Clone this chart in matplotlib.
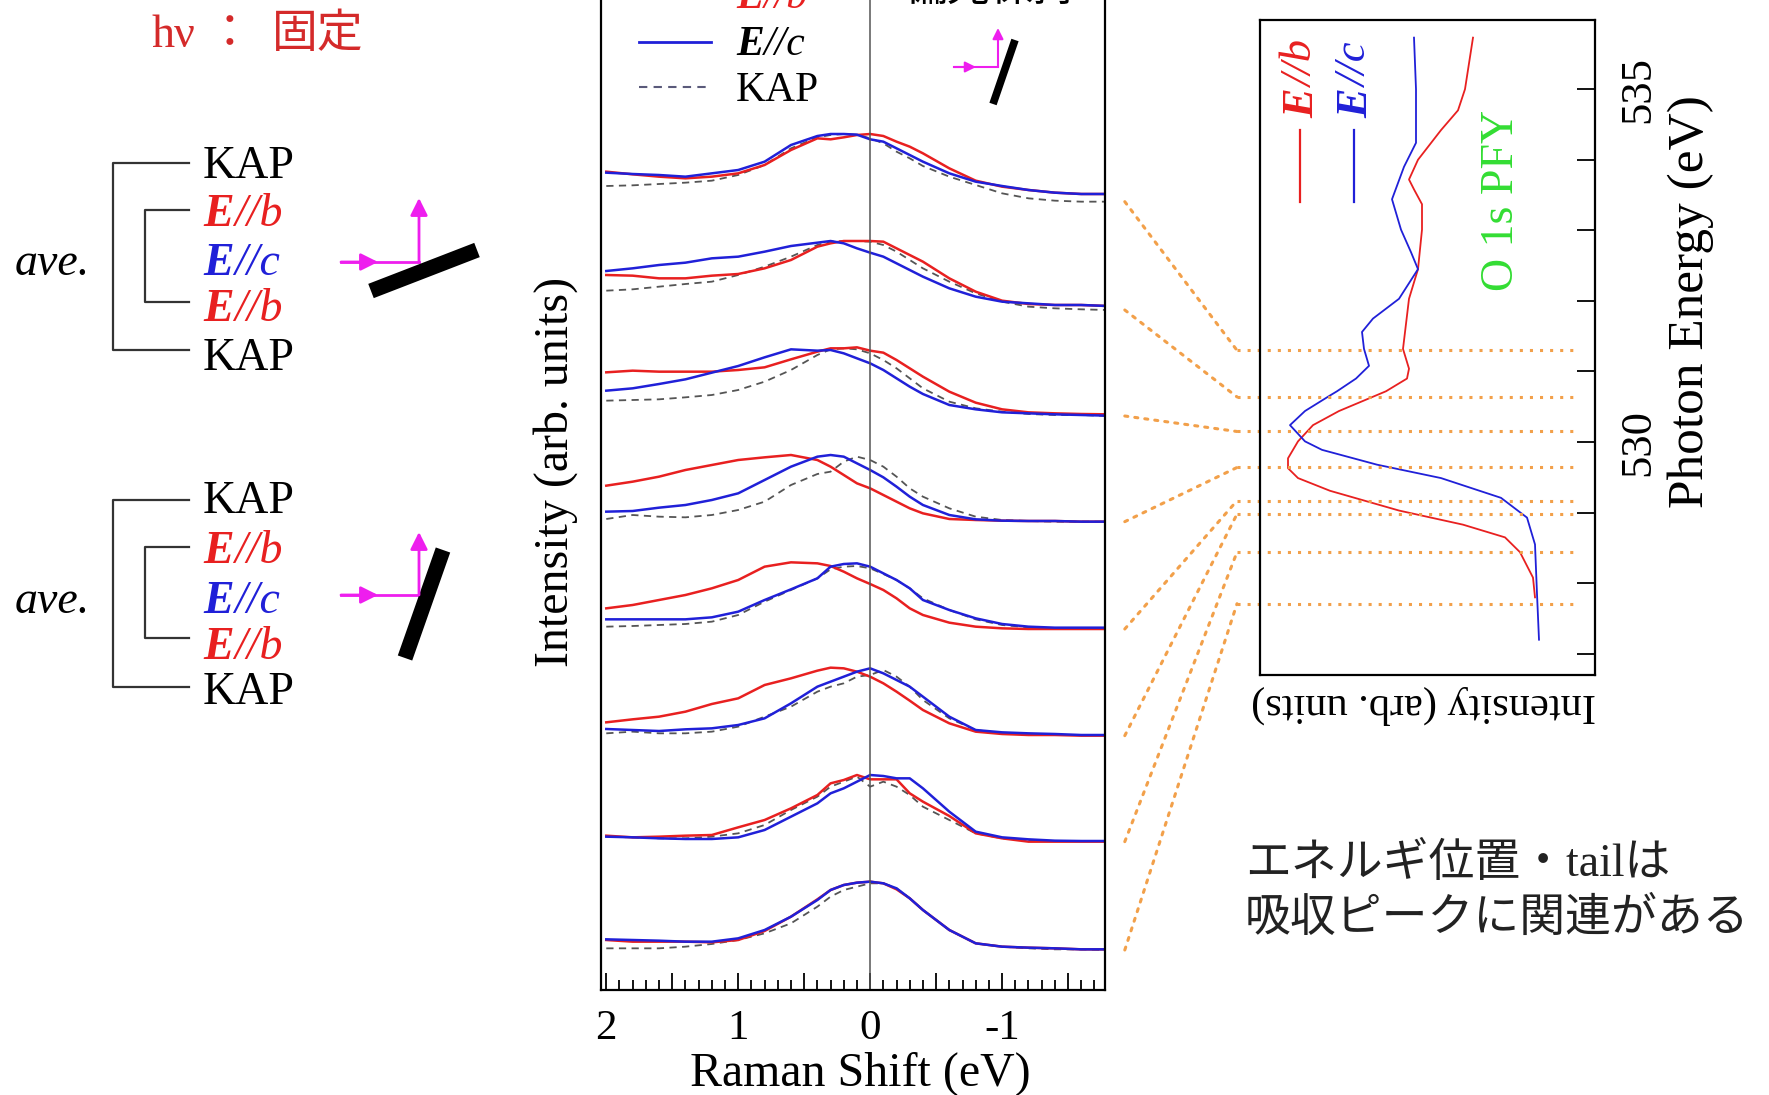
import numpy as np
import matplotlib
matplotlib.use("Agg")
import matplotlib.pyplot as plt
from matplotlib.patches import ConnectionPatch
from matplotlib.ticker import MultipleLocator, FuncFormatter

plt.rcParams['font.family'] = ['Liberation Serif', 'Noto Sans CJK JP']

# Raman shift grid (eV)
shift = [2.0, 1.8, 1.6, 1.4, 1.2, 1.0, 0.8, 0.6, 0.4, 0.3, 0.2, 0.1, 0.0,
         -0.1, -0.2, -0.3, -0.4, -0.6, -0.8, -1.0, -1.2, -1.4, -1.6, -1.8]

# intensities (arb. units), top spectrum first
eb = [
    [90, 82, 75, 70, 75, 85, 110, 155, 190, 187, 193, 200, 203, 197, 180, 165, 145, 100, 63, 45, 35, 27, 23, 23],
    [105, 103, 95, 95, 103, 108, 125, 150, 190, 200, 207, 207, 207, 205, 185, 165, 145, 95, 55, 28, 18, 15, 15, 12],
    [131, 136, 133, 133, 133, 138, 146, 170, 193, 203, 203, 206, 196, 190, 168, 143, 118, 73, 40, 20, 11, 8, 6, 5],
    [108, 120, 135, 155, 170, 185, 193, 200, 185, 165, 140, 115, 100, 80, 60, 40, 25, 8, 5, 3, 2, 2, 0, 0],
    [62, 72, 87, 102, 122, 147, 187, 200, 197, 189, 172, 152, 135, 117, 92, 62, 42, 19, 7, 2, 0, 0, 0, 0],
    [40, 49, 57, 72, 95, 112, 152, 172, 195, 204, 202, 192, 177, 157, 132, 105, 77, 37, 12, 5, 2, 2, 0, 0],
    [18, 13, 15, 18, 20, 43, 65, 100, 140, 175, 185, 200, 187, 187, 187, 145, 120, 77, 25, 10, 0, 0, 0, 0],
    [30, 25, 25, 25, 23, 30, 57, 100, 152, 180, 195, 202, 205, 200, 182, 155, 120, 60, 20, 10, 7, 5, 2, 2],
]
ec = [
    [87, 83, 80, 75, 85, 95, 120, 170, 197, 203, 203, 201, 187, 180, 160, 140, 120, 85, 60, 47, 35, 27, 23, 23],
    [117, 125, 135, 142, 155, 160, 175, 192, 202, 207, 200, 185, 172, 160, 140, 120, 100, 65, 40, 25, 20, 15, 15, 12],
    [76, 83, 96, 110, 130, 150, 176, 200, 196, 198, 188, 173, 158, 138, 113, 88, 66, 33, 20, 11, 8, 5, 3, 1],
    [30, 32, 42, 50, 65, 85, 125, 165, 195, 200, 195, 175, 155, 133, 105, 75, 50, 20, 7, 3, 2, 2, 0, 0],
    [29, 29, 29, 29, 35, 52, 87, 119, 152, 187, 195, 197, 187, 167, 147, 122, 87, 57, 32, 15, 7, 4, 4, 4],
    [20, 17, 14, 19, 22, 32, 52, 97, 147, 162, 177, 192, 202, 187, 167, 147, 117, 57, 17, 10, 7, 5, 2, 2],
    [15, 13, 10, 8, 8, 13, 35, 75, 115, 145, 160, 180, 200, 197, 190, 190, 160, 90, 30, 13, 7, 3, 2, 2],
    [32, 30, 28, 25, 25, 35, 60, 100, 150, 180, 195, 202, 205, 200, 185, 155, 120, 60, 20, 10, 7, 5, 2, 2],
]
kap = [
    [47, 49, 53, 57, 63, 80, 110, 160, 193, 200, 203, 201, 190, 175, 150, 130, 107, 75, 50, 25, 10, 3, 0, 0],
    [58, 62, 70, 78, 85, 105, 130, 160, 195, 205, 207, 207, 205, 195, 175, 150, 125, 85, 50, 25, 10, 5, 2, 0],
    [46, 48, 50, 56, 63, 78, 103, 138, 183, 200, 203, 200, 188, 168, 143, 113, 83, 43, 23, 13, 6, 3, 3, 0],
    [8, 20, 15, 13, 20, 35, 60, 110, 143, 150, 180, 195, 185, 165, 135, 100, 75, 40, 15, 5, 2, 0, 0, 0],
    [7, 9, 12, 15, 22, 42, 82, 117, 152, 179, 187, 189, 182, 165, 147, 122, 92, 57, 29, 12, 5, 2, 2, 2],
    [7, 12, 7, 7, 12, 27, 57, 87, 132, 147, 157, 177, 182, 197, 177, 147, 107, 52, 17, 7, 4, 2, 2, 2],
    [15, 13, 10, 10, 15, 25, 50, 95, 135, 165, 180, 195, 165, 180, 165, 140, 105, 65, 25, 10, 3, 2, 2, 2],
    [5, 5, 5, 10, 18, 30, 50, 80, 130, 160, 180, 190, 200, 200, 185, 155, 120, 60, 20, 10, 5, 2, 2, 0],
]
offsets = [2365, 2040, 1722, 1405, 1083, 763, 445, 120]

# O 1s PFY (photon energy eV, intensity)
pfy_b_energy = [535.73, 535.0, 534.70, 534.42, 534.0, 533.72, 533.58, 533.37, 533.01, 532.45,
                532.03, 531.32, 531.04, 530.90, 530.72, 530.44, 530.24, 530.01, 529.77, 529.63,
                529.49, 529.31, 529.03, 528.83, 528.65, 528.44, 528.08, 527.80]
pfy_b = [1.22, 1.30, 1.37, 1.54, 1.77, 1.86, 1.81, 1.73, 1.73, 1.77,
         1.86, 1.92, 1.86, 1.88, 2.09, 2.56, 2.82, 2.97, 3.07, 3.07,
         2.97, 2.65, 1.96, 1.32, 0.90, 0.75, 0.62, 0.60]
pfy_c_energy = [535.73, 535.0, 534.24, 533.90, 533.44, 533.01, 532.69, 532.45, 532.03, 531.75,
                531.56, 531.32, 531.08, 530.90, 530.72, 530.66, 530.44, 530.24, 530.01, 529.89,
                529.68, 529.49, 529.21, 528.93, 528.55, 527.85, 527.20]
pfy_c = [1.81, 1.79, 1.79, 1.91, 2.03, 1.94, 1.84, 1.77, 1.96, 2.22,
         2.33, 2.31, 2.26, 2.39, 2.58, 2.65, 2.90, 3.05, 2.90, 2.73,
         2.18, 1.54, 0.94, 0.68, 0.60, 0.58, 0.56]
excite = [531.30, 530.64, 530.15, 529.64, 529.17, 528.98, 528.44, 527.71]

RED = '#e82020'
BLUE = '#2020d8'
MAG = '#ee1eee'
ORANGE = '#f2a04a'
GREEN = '#33dd33'
W, H = 1769, 1095

fig = plt.figure(figsize=(W / 100, H / 100), dpi=100)

# main RIXS panel
ax = fig.add_axes([601 / W, 105 / H, 504 / W, 1000 / H])
for i in range(8):
    off = offsets[i]
    ax.plot(shift, np.array(kap[i]) + off, color='#555555', lw=1.3, dashes=(4, 3))
    ax.plot(shift, np.array(eb[i]) + off, color=RED, lw=1.8)
    ax.plot(shift, np.array(ec[i]) + off, color=BLUE, lw=1.8)
ax.axvline(0, color='#555555', lw=1.1)
ax.set_xlim(2.04, -1.78)
ax.set_ylim(0, 3000)
ax.set_yticks([])
ax.set_xticks(np.arange(-1.5, 2.01, 0.5))
ax.xaxis.set_minor_locator(MultipleLocator(0.1))
ax.xaxis.set_major_formatter(FuncFormatter(lambda v, p: '%d' % round(v) if abs(v - round(v)) < 1e-6 else ''))
ax.tick_params(axis='x', which='both', direction='in', top=False, labelsize=31, pad=14, width=1.3)
ax.tick_params(axis='x', which='major', length=12)
ax.tick_params(axis='x', which='minor', length=7)
for s in ax.spines.values():
    s.set_linewidth(1.6)

# PFY panel
ax2 = fig.add_axes([1260 / W, 420 / H, 335 / W, 655 / H])
ax2.plot(pfy_b, pfy_b_energy, color=RED, lw=1.3)
ax2.plot(pfy_c, pfy_c_energy, color=BLUE, lw=1.3)
ax2.set_xlim(3.35, 0)
ax2.set_ylim(526.7, 535.98)
ax2.set_xticks([])
ax2.yaxis.tick_right()
ax2.set_yticks(range(527, 536))
ax2.yaxis.set_major_formatter(FuncFormatter(lambda v, p: '%d' % v if v % 5 == 0 else ''))
ax2.tick_params(axis='y', direction='in', length=13, width=1.3, labelsize=32, labelrotation=90, pad=17)
plt.setp(ax2.get_yticklabels(), rotation_mode='default', va='center', ha='left')
for s in ax2.spines.values():
    s.set_linewidth(1.6)

dot = dict(color=ORANGE, lw=2.2, linestyle=(0, (1, 2.3)))
for off, e in zip(offsets, excite):
    ax2.plot([3.58, 0.21], [e, e], clip_on=False, **dot)
    con = ConnectionPatch(xyA=(-1.93, off), coordsA=ax.transData,
                          xyB=(3.58, e), coordsB=ax2.transData, **dot)
    fig.add_artist(con)

# overlay in pixel coordinates for labels and sketches
ov = fig.add_axes([0, 0, 1, 1])
ov.set_xlim(0, W)
ov.set_ylim(H, 0)
ov.axis('off')


def rich(x, y, parts, size, rot=0):
    s, c, st, w = parts[0]
    if rot == 0:
        t = ov.text(x, y, s, color=c, style=st, weight=w, fontsize=size, ha='left', va='center')
    else:
        t = ov.text(x, y, s, color=c, style=st, weight=w, fontsize=size, ha='center', va='bottom', rotation=90)
    for s, c, st, w in parts[1:]:
        if rot == 0:
            t = ov.annotate(s, xy=(1, 0), xycoords=t, color=c, style=st, weight=w, fontsize=size,
                            ha='left', va='bottom')
        else:
            t = ov.annotate(s, xy=(0.5, 1), xycoords=t, color=c, style=st, weight=w, fontsize=size,
                            ha='center', va='bottom', rotation=90)


def elabel(axis_letter, color):
    return [('E', color, 'italic', 'bold'), ('//' + axis_letter, color, 'italic', 'normal')]


ov.text(151, 36, 'hν', color='#d42a2a', fontsize=33, va='center')
ov.text(230, 36, '：', color='#d42a2a', fontsize=33, va='center', ha='center')
ov.text(272, 36, '固定', color='#d42a2a', fontsize=33, va='center')

# measurement sequence brackets
for ys, yo, yi in [((167, 215, 264, 310, 359), (163, 350), (210, 302)),
                   ((502, 552, 602, 648, 693), (500, 687), (547, 638))]:
    ov.plot([189, 113, 113, 189], [yo[0], yo[0], yo[1], yo[1]], color='#333333', lw=1.6)
    ov.plot([189, 145, 145, 189], [yi[0], yi[0], yi[1], yi[1]], color='#333333', lw=1.6)
    ov.text(203, ys[0], 'KAP', fontsize=33, va='center')
    rich(203, ys[1], elabel('b', RED), 33)
    rich(203, ys[2], elabel('c', BLUE), 33)
    rich(203, ys[3], elabel('b', RED), 33)
    ov.text(203, ys[4], 'KAP', fontsize=33, va='center')
    ov.text(15, ys[2], 'ave.', fontsize=33, style='italic', va='center')

arr = dict(arrowstyle='-|>', color=MAG, lw=2, mutation_scale=26, shrinkA=0, shrinkB=0)
# sketch 1
ov.plot([341, 419], [262, 262], color=MAG, lw=2)
ov.annotate('', xy=(378, 262), xytext=(341, 262), arrowprops=arr)
ov.annotate('', xy=(419, 198), xytext=(419, 262), arrowprops=arr)
ov.plot([371, 477], [291, 250], color='black', lw=11, solid_capstyle='butt')
# sketch 2
ov.plot([341, 419], [595, 595], color=MAG, lw=2)
ov.annotate('', xy=(378, 595), xytext=(341, 595), arrowprops=arr)
ov.annotate('', xy=(419, 532), xytext=(419, 595), arrowprops=arr)
ov.plot([443, 405], [550, 658], color='black', lw=11, solid_capstyle='butt')
# small sketch in main panel
arr2 = dict(arr, mutation_scale=16, lw=1.5)
ov.plot([954, 998], [67, 67], color=MAG, lw=1.5)
ov.annotate('', xy=(976, 67), xytext=(954, 67), arrowprops=arr2)
ov.annotate('', xy=(998, 28), xytext=(998, 67), arrowprops=arr2)
ov.plot([1015, 993], [40, 104], color='black', lw=5.5, solid_capstyle='butt')
ov.text(990, -10, '偏光保持', fontsize=31, ha='center', va='center')

# legend of main panel
ov.plot([639, 711], [-3, -3], color=RED, lw=2)
rich(736, -2, elabel('b', RED), 30)
ov.plot([639, 711], [42, 42], color=BLUE, lw=2)
rich(736, 45, [('E', 'black', 'italic', 'bold'), ('//c', 'black', 'italic', 'normal')], 30)
ov.plot([639, 711], [87, 87], color='#5a5a7a', lw=1.5, dashes=(4, 3))
ov.text(736, 91, 'KAP', fontsize=30, va='center')

# legend of PFY panel
ov.plot([1300, 1300], [130, 202], color=RED, lw=1.6)
rich(1302, 118, elabel('b', RED), 32, rot=90)
ov.plot([1354, 1354], [130, 202], color=BLUE, lw=1.6)
rich(1356, 118, elabel('c', BLUE), 32, rot=90)
ov.text(1502, 200, 'O 1s PFY', color=GREEN, fontsize=33, rotation=90, ha='center', va='center')

ov.text(556, 472, 'Intensity (arb. units)', fontsize=34.5, rotation=90, ha='center', va='center')
ov.text(860, 1074, 'Raman Shift (eV)', fontsize=34.5, ha='center', va='center')
ov.text(1691, 302, 'Photon Energy (eV)', fontsize=37, rotation=90, ha='center', va='center')
ov.text(1424, 705, 'Intensity (arb. units)', fontsize=30.5, rotation=180, ha='center', va='center')

ov.text(1245, 864, 'エネルギ位置・tailは', fontsize=33, color='#222222', va='center')
ov.text(1245, 919, '吸収ピークに関連がある', fontsize=33, color='#222222', va='center')

fig.savefig('out.png', dpi=100)
